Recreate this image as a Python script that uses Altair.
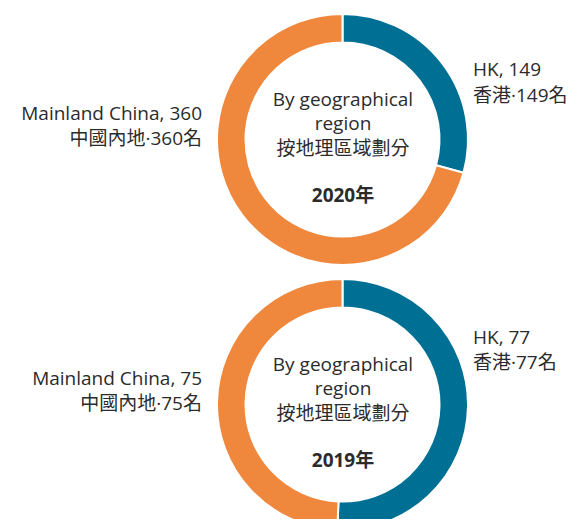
import altair as alt
import pandas as pd

years = ["2020", "2019"]
regions = ["HK", "Mainland China"]
regions_zh = ["香港", "中國內地"]
values_2020 = [149, 360]
values_2019 = [77, 75]
center_en = ["By geographical", "region"]
center_zh = "按地理區域劃分"
colors = ["#006f94", "#ef873c"]

rows = []
for yr, vals in zip(years, [values_2020, values_2019]):
    for i, (r, rz, v) in enumerate(zip(regions, regions_zh, vals)):
        rows.append({"year": yr, "region": r, "value": v, "idx": i,
                     "en": f"{r}, {v}", "zh": f"{rz}\u00b7{v}名"})
df = pd.DataFrame(rows)

FONT = "Open Sans, Noto Sans CJK TC"
FS = 19
TXT = "#2b2b2b"
W, H = 567, 511
CX = 334.5
centers = {"2020": 131.5, "2019": 396.5}

base = alt.Chart(df)
charts = []
for yr in years:
    cy = centers[yr]
    sub = base.transform_filter(alt.datum.year == yr)
    layers = []
    layers.append(
        sub.mark_arc(outerRadius=125.5, innerRadius=97, stroke="white", strokeWidth=2)
        .encode(
            theta=alt.Theta("value:Q", stack=True),
            color=alt.Color("region:N", scale=alt.Scale(domain=regions, range=colors), legend=None),
            order=alt.Order("idx:Q"),
            x=alt.value(CX), y=alt.value(cy),
        )
    )
    for txt, dy, bold in [(center_en[0], -40, False), (center_en[1], -15.5, False),
                          (center_zh, 9, False), (yr + "年", 56, True)]:
        layers.append(
            alt.Chart(pd.DataFrame({"t": [txt]})).mark_text(
                font=FONT, fontSize=FS, color=TXT, align="center", baseline="middle",
                fontWeight="bold" if bold else "normal"
            ).encode(text="t:N", x=alt.value(CX + 0.5), y=alt.value(cy + dy))
        )
    hk_y = (62, 88) if yr == "2020" else (330, 355)
    ml_y = (106, 131) if yr == "2020" else (371, 396)
    for reg, (y1, y2), xpos, al in [("HK", hk_y, 465, "left"), ("Mainland China", ml_y, 194, "right")]:
        s = sub.transform_filter(alt.datum.region == reg)
        layers.append(s.mark_text(font=FONT, fontSize=FS, color=TXT, align=al, baseline="middle")
                      .encode(text="en:N", x=alt.value(xpos), y=alt.value(y1)))
        layers.append(s.mark_text(font=FONT, fontSize=FS, color=TXT, align=al, baseline="middle")
                      .encode(text="zh:N", x=alt.value(xpos), y=alt.value(y2)))
    charts.append(alt.layer(*layers))

chart = alt.layer(*charts).resolve_scale(theta="independent", color="shared").properties(
    width=W, height=H, autosize=alt.AutoSizeParams(type="none"), padding=0
).configure_view(stroke=None)

chart.save("out.html", embed_options={"renderer": "svg", "actions": False})
